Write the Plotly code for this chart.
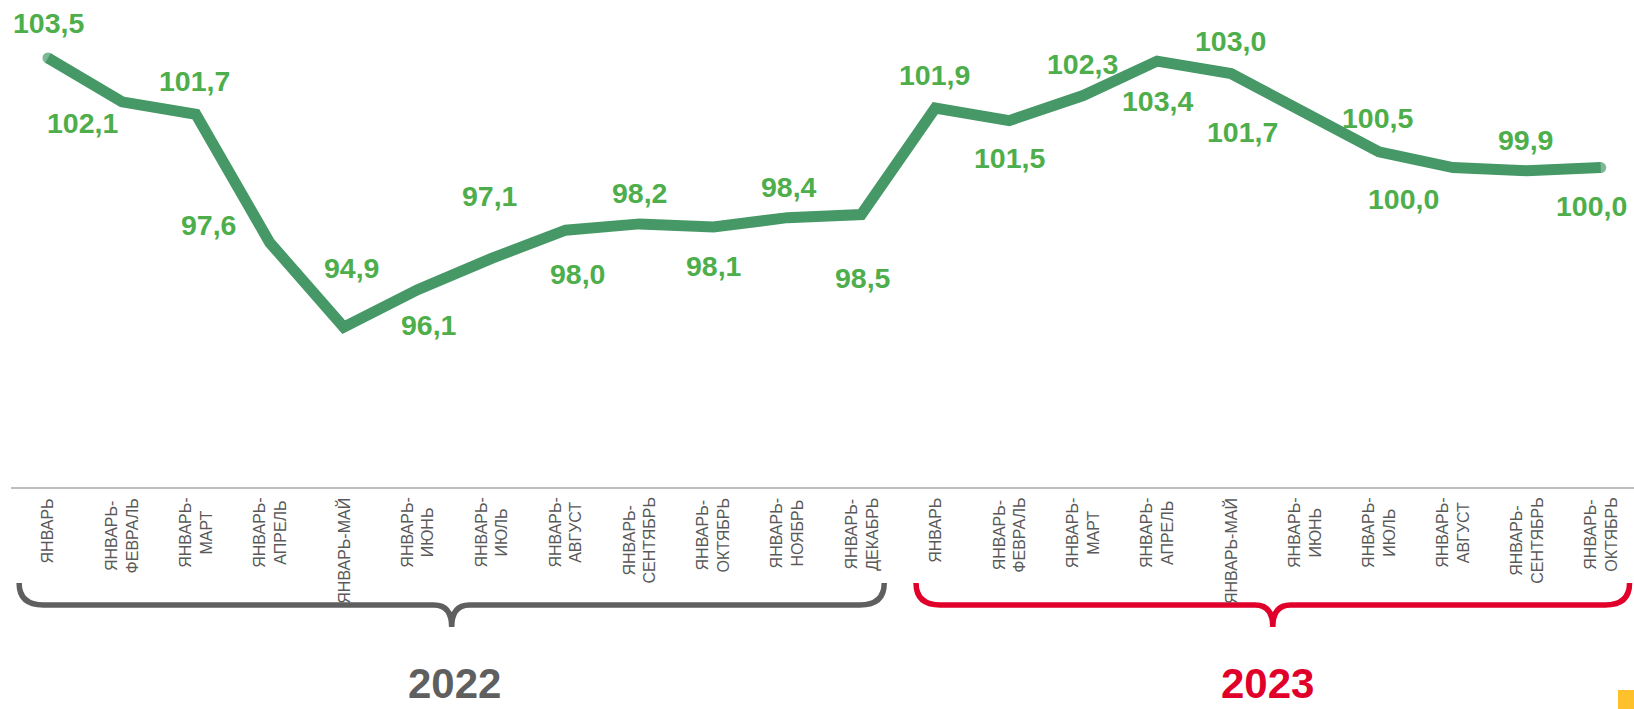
import plotly.graph_objects as go

# data
months = ['ЯНВАРЬ', 'ЯНВАРЬ-<br>ФЕВРАЛЬ', 'ЯНВАРЬ-<br>МАРТ', 'ЯНВАРЬ-<br>АПРЕЛЬ', 'ЯНВАРЬ-МАЙ',
          'ЯНВАРЬ-<br>ИЮНЬ', 'ЯНВАРЬ-<br>ИЮЛЬ', 'ЯНВАРЬ-<br>АВГУСТ', 'ЯНВАРЬ-<br>СЕНТЯБРЬ',
          'ЯНВАРЬ-<br>ОКТЯБРЬ', 'ЯНВАРЬ-<br>НОЯБРЬ', 'ЯНВАРЬ-<br>ДЕКАБРЬ']
months_2022 = months
months_2023 = months[:10]
values_2022 = [103.5, 102.1, 101.7, 97.6, 94.9, 96.1, 97.1, 98.0, 98.2, 98.1, 98.4, 98.5]
values_2023 = [101.9, 101.5, 102.3, 103.4, 103.0, 101.7, 100.5, 100.0, 99.9, 100.0]
years = ['2022', '2023']

labels = months_2022 + months_2023
values = values_2022 + values_2023
xs = list(range(len(values)))

# label offsets in pixels (dx, dy down-positive)
offsets = [(1, -35), (-39, 21), (-1, -33), (-61, -18), (8, -59), (11, 35), (-2, -62), (12, 44),
           (0, -31), (1, 39), (2, -31), (2, 63),
           (-1, -33), (0, 37), (-1, -32), (0, 40), (-1, -33), (-62, 18), (-1, -34), (-49, 31),
           (-1, -31), (-9, 38)]

LINE = '#469966'
LBL = '#4DAE4B'
GREY = '#5f5f5f'
RED = '#E1002A'
FONT = 'Arial, Liberation Sans, sans-serif'

PLOT_H = 487  # px height of plot area


def py(ypx):
    # pixel (from top of figure) -> paper y
    return (PLOT_H - ypx) / PLOT_H


fig = go.Figure()

msize = [11] + [0] * (len(values) - 2) + [11]
fig.add_trace(go.Scatter(x=xs, y=values, mode='lines+markers',
                         line=dict(color=LINE, width=11),
                         marker=dict(color=LINE, size=msize, line=dict(width=0)),
                         hoverinfo='skip', showlegend=False, cliponaxis=False))

# data labels
for x, v, (dx, dy) in zip(xs, values, offsets):
    fig.add_annotation(x=x, y=v, xref='x', yref='y', text=f'{v:.1f}'.replace('.', ','),
                       showarrow=False, xanchor='center', yanchor='middle',
                       xshift=dx, yshift=-dy,
                       font=dict(family=FONT, size=28.5, color=LBL, weight='bold'))

# category labels
for x, lab in zip(xs, labels):
    fig.add_annotation(x=x, y=0, xref='x', yref='paper', text=lab, textangle=-90,
                       showarrow=False, xanchor='center', yanchor='top', yshift=-9,
                       align='center', font=dict(family=FONT, size=16, color='#595959'))


# braces
def brace(xa, xb, color):
    rx = 0.33
    h = py(605)
    r = 22 / PLOT_H
    xm = (xa + xb) / 2
    rxm = 0.24
    path = (f'M {xa},{h + r} Q {xa},{h} {xa + rx},{h} L {xm - rxm},{h} '
            f'Q {xm},{h} {xm},{h - r} Q {xm},{h} {xm + rxm},{h} '
            f'L {xb - rx},{h} Q {xb},{h} {xb},{h + r}')
    fig.add_shape(type='path', path=path, xref='x', yref='paper',
                  line=dict(color=color, width=5.5))


n22 = len(values_2022)
brace(-0.39, n22 - 1 + 0.31, GREY)
brace(n22 - 0.26, len(values) - 1 + 0.39, RED)

# year labels (kept inside the bottom edge)
fig.add_annotation(x=(n22 - 1) / 2, y=py(709), xref='x', yref='paper', text=years[0],
                   showarrow=False, xanchor='center', yanchor='bottom',
                   font=dict(family=FONT, size=42, color=GREY, weight='bold'))
fig.add_annotation(x=(n22 + len(values) - 1) / 2, y=py(709), xref='x', yref='paper', text=years[1],
                   showarrow=False, xanchor='center', yanchor='bottom',
                   font=dict(family=FONT, size=42, color=RED, weight='bold'))

# small yellow square in corner
fig.add_shape(type='rect', xref='paper', yref='paper', x0=(1618 - 11) / 1623, x1=1.01,
              y0=py(690), y1=py(712), fillcolor='#FFC12B', line=dict(width=0))

fig.update_layout(
    width=1634, height=709,
    margin=dict(l=11, r=0, t=0, b=709 - PLOT_H),
    plot_bgcolor='white', paper_bgcolor='white',
    xaxis=dict(range=[-0.5, 21.45], showticklabels=False, showgrid=False, zeroline=False,
               showline=True, linecolor='#BFBFBF', linewidth=2, ticks=''),
    yaxis=dict(range=[89.794, 105.353], visible=False),
)

fig.write_html('out.html', config={'displayModeBar': False},
               post_script="document.body.style.margin='0px';")
